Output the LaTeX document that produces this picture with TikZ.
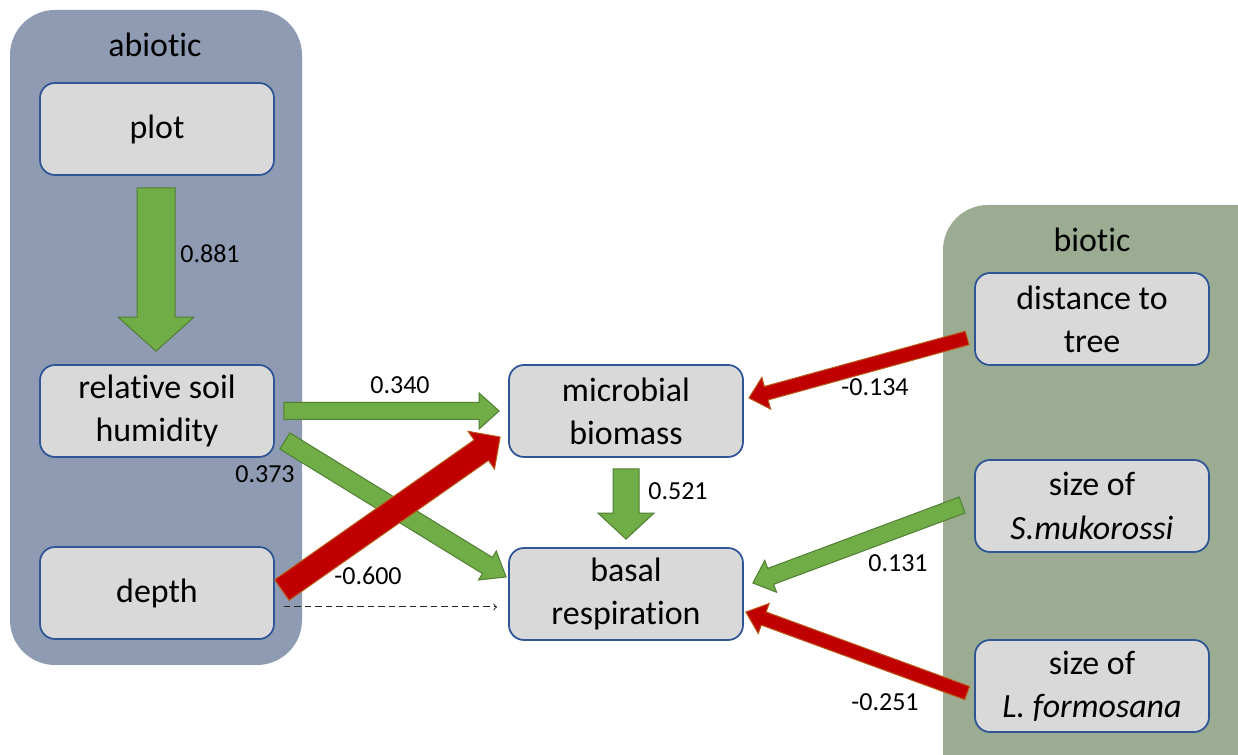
\documentclass[tikz,border=0pt]{standalone}
\usepackage{fontspec}
\setmainfont{Carlito}[RawFeature={-liga;-clig;-dlig;-calt;-rlig;-hlig}]
\usetikzlibrary{calc}
\definecolor{abioticbg}{RGB}{142,155,179}
\definecolor{bioticbg}{RGB}{155,172,146}
\definecolor{boxfill}{RGB}{217,217,217}
\definecolor{boxline}{RGB}{47,85,151}
\definecolor{posfill}{RGB}{112,173,71}
\definecolor{posline}{RGB}{80,126,50}
\definecolor{negfill}{RGB}{192,0,0}
\definecolor{negline}{RGB}{185,90,20}
% block arrow: [style](from)(to)(shaft half width:head half width:head length)
\def\blockarrow[#1](#2)(#3)(#4:#5:#6){%
	\coordinate (ba-h) at ($(#3)!#6!(#2)$);
	\draw[#1] ($(#2)!#4!90:(#3)$) -- ($(ba-h)!#4!-90:(#2)$) -- ($(ba-h)!#5!-90:(#2)$) -- (#3)
		-- ($(ba-h)!#5!90:(#2)$) -- ($(ba-h)!#4!90:(#2)$) -- ($(#2)!#4!-90:(#3)$) -- cycle;}
\tikzset{
	var/.style={draw=boxline, line width=0.35mm, fill=boxfill, rounded corners=3mm,
		minimum width=46.8mm, minimum height=18.4mm, align=center,
		font=\fontsize{19.3}{24.6}\selectfont},
	grouptitle/.style={font=\fontsize{19.3}{24.6}\selectfont},
	coef/.style={font=\fontsize{14.8}{18}\selectfont},
	posarrow/.style={fill=posfill, draw=posline, line width=0.2mm},
	negarrow/.style={fill=negfill, draw=negline, line width=0.2mm},
}

\begin{document}
\begin{tikzpicture}[x=0.2mm, y=-0.2mm]
			%%%%% START %%%%%
			\useasboundingbox (0, 0) rectangle (1238, 755);
			
			\fill[abioticbg, rounded corners=9mm] (10, 10) rectangle (302, 665);
			\fill[bioticbg, rounded corners=9mm] (943, 205) rectangle (1300, 820);
			
			\node[grouptitle] (abiotic) at (155, 45) {abiotic};
			\node[grouptitle] (biotic) at (1092, 240) {biotic};
			
			\node[var] (plot) at (157, 129) {plot};
			\node[var] (rsh) at (157, 411) {relative soil\\humidity};
			\node[var] (depth) at (157, 593) {depth};
			
			\node[var] (mb) at (626, 411) {microbial\\biomass};
			\node[var] (br) at (626, 594) {basal\\respiration};
			
			\node[var] (dist) at (1092, 319) {distance to\\tree};
			\node[var] (sizeS) at (1092, 506) {size of\\\textit{S.mukorossi}};
			\node[var] (sizeL) at (1092, 686) {size of\\\textit{L. formosana}};
			
			\coordinate (plot-out) at ($(plot.south)+(-1, 12)$);
			\coordinate (rsh-in) at ($(rsh.north)+(-1, -13)$);
			\blockarrow[posarrow](plot-out)(rsh-in)(3.8mm:7.6mm:6.8mm)
			
			\coordinate (rsh-mb-a) at ($(rsh.east)+(9, 0)$);
			\coordinate (rsh-mb-b) at ($(mb.west)+(-9, 0)$);
			\blockarrow[posarrow](rsh-mb-a)(rsh-mb-b)(1.7mm:3.6mm:4mm)
			
			\coordinate (rsh-br-a) at ($(rsh.east)+(10, 30)$);
			\coordinate (rsh-br-b) at ($(br.west)+(-2, -17)$);
			\blockarrow[posarrow](rsh-br-a)(rsh-br-b)(1.9mm:3.4mm:4.4mm)
			
			\coordinate (depth-mb-a) at ($(depth.east)+(7, -3)$);
			\coordinate (depth-mb-b) at ($(mb.west)+(-8, 26)$);
			\blockarrow[negarrow](depth-mb-a)(depth-mb-b)(2.5mm:4.6mm:4.6mm)
			
			\coordinate (depth-br-a) at ($(depth.east)+(9, 14)$);
			\coordinate (depth-br-b) at ($(br.west)+(-11, 13)$);
			\draw[dash pattern=on 1.3mm off 0.8mm, ->, line width=0.2mm, color=black!85] (depth-br-a) -- (depth-br-b);
			
			\coordinate (mb-br-a) at ($(mb.south)+(0, 11)$);
			\coordinate (mb-br-b) at ($(br.north)+(0, -8)$);
			\blockarrow[posarrow](mb-br-a)(mb-br-b)(2.6mm:5.6mm:5.2mm)
			
			\coordinate (dist-mb-a) at ($(dist.west)+(-7, 19)$);
			\coordinate (dist-mb-b) at ($(mb.east)+(5, -13)$);
			\blockarrow[negarrow](dist-mb-a)(dist-mb-b)(1.4mm:3.3mm:3.6mm)
			
			\coordinate (sizeS-br-a) at ($(sizeS.west)+(-12, -1)$);
			\coordinate (sizeS-br-b) at ($(br.east)+(9, -11)$);
			\blockarrow[posarrow](sizeS-br-a)(sizeS-br-b)(1.7mm:3.4mm:3.8mm)
			
			\coordinate (sizeL-br-a) at ($(sizeL.west)+(-7, 7)$);
			\coordinate (sizeL-br-b) at ($(br.east)+(2, 18)$);
			\blockarrow[negarrow](sizeL-br-a)(sizeL-br-b)(1.4mm:3.2mm:3.8mm)
			
			\node[coef] (c-plot-rsh) at (210, 254) {0.881};
			\node[coef] (c-rsh-mb) at (400, 385) {0.340};
			\node[coef] (c-rsh-br) at (265, 474) {0.373};
			\node[coef] (c-depth-mb) at (368, 576) {-0.600};
			\node[coef] (c-mb-br) at (678, 491) {0.521};
			\node[coef] (c-dist-mb) at (875, 387) {-0.134};
			\node[coef] (c-sizeS-br) at (898, 563) {0.131};
			\node[coef] (c-sizeL-br) at (885, 702) {-0.251};
			
			%%%%% END %%%%%
\end{tikzpicture}
\end{document}
